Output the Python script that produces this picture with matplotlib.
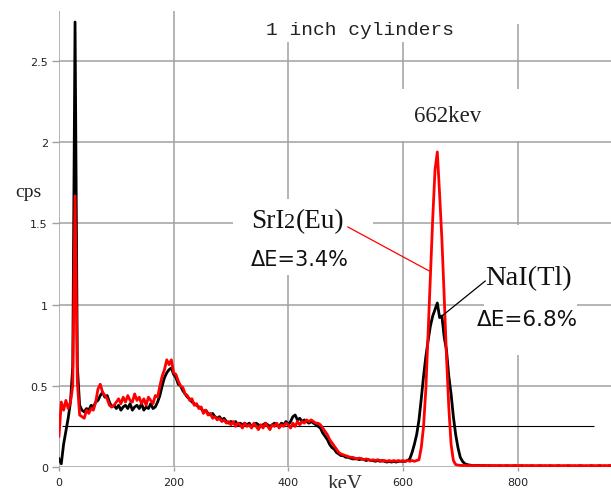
import numpy as np
import matplotlib.pyplot as plt
from matplotlib.patches import Rectangle

# NaI(Tl) spectrum, cps, 4 keV bins starting at 0 keV
nai = [0.05, 0.02, 0.14, 0.22, 0.30, 0.40, 0.62, 2.74, 0.62, 0.38,
       0.35, 0.34, 0.36, 0.35, 0.38, 0.37, 0.40, 0.41, 0.44, 0.46,
       0.43, 0.44, 0.40, 0.37, 0.38, 0.36, 0.38, 0.35, 0.37, 0.38,
       0.36, 0.39, 0.35, 0.37, 0.38, 0.36, 0.39, 0.35, 0.37, 0.36,
       0.39, 0.36, 0.37, 0.40, 0.44, 0.50, 0.55, 0.58, 0.60, 0.61,
       0.57, 0.55, 0.51, 0.50, 0.47, 0.45, 0.43, 0.42, 0.40, 0.39,
       0.38, 0.37, 0.36, 0.34, 0.35, 0.33, 0.32, 0.33, 0.31, 0.30,
       0.31, 0.29, 0.30, 0.28, 0.27, 0.28, 0.27, 0.28, 0.26, 0.27,
       0.26, 0.27, 0.26, 0.27, 0.25, 0.26, 0.27, 0.26, 0.25, 0.26,
       0.27, 0.26, 0.25, 0.26, 0.27, 0.26, 0.25, 0.27, 0.26, 0.28,
       0.26, 0.28, 0.31, 0.32, 0.29, 0.30, 0.28, 0.29, 0.28, 0.27,
       0.28, 0.27, 0.26, 0.25, 0.24, 0.21, 0.19, 0.17, 0.14, 0.12,
       0.11, 0.09, 0.08, 0.07, 0.07, 0.06, 0.06, 0.055, 0.05, 0.05,
       0.05, 0.045, 0.05, 0.045, 0.04, 0.045, 0.04, 0.04, 0.035, 0.04,
       0.035, 0.04, 0.035, 0.03, 0.035, 0.03, 0.035, 0.03, 0.035, 0.035,
       0.035, 0.035, 0.04, 0.05, 0.09, 0.14, 0.20, 0.29, 0.42, 0.56,
       0.68, 0.78, 0.87, 0.93, 0.97, 1.01, 0.92, 0.93, 0.80, 0.72,
       0.56, 0.45, 0.31, 0.20, 0.12, 0.06, 0.035, 0.02, 0.015, 0.012,
       0.01, 0.01, 0.01, 0.01, 0.008, 0.01, 0.008, 0.007, 0.008, 0.006,
       0.007, 0.006, 0.007, 0.005, 0.006, 0.005, 0.006, 0.005, 0.006, 0.005,
       0.005, 0.006, 0.005, 0.005, 0.006, 0.005, 0.005, 0.004, 0.005, 0.005,
       0.004, 0.005, 0.005, 0.004, 0.005, 0.004, 0.005, 0.004, 0.005, 0.004,
       0.004, 0.005, 0.004, 0.004, 0.005, 0.004, 0.004, 0.004, 0.005, 0.004,
       0.004, 0.004, 0.005, 0.004, 0.004, 0.005, 0.004, 0.004, 0.005, 0.004,
       0.004, 0.005]

# SrI2(Eu) spectrum, cps, same bins
sri = [0.19, 0.40, 0.35, 0.41, 0.36, 0.40, 0.50, 1.67, 0.52, 0.32,
       0.31, 0.30, 0.35, 0.33, 0.36, 0.35, 0.40, 0.48, 0.51, 0.46,
       0.44, 0.42, 0.38, 0.37, 0.38, 0.40, 0.42, 0.39, 0.43, 0.40,
       0.44, 0.41, 0.40, 0.45, 0.41, 0.43, 0.39, 0.42, 0.38, 0.43,
       0.41, 0.39, 0.44, 0.43, 0.50, 0.56, 0.60, 0.66, 0.63, 0.66,
       0.58, 0.57, 0.53, 0.50, 0.49, 0.45, 0.44, 0.41, 0.42, 0.38,
       0.39, 0.36, 0.37, 0.33, 0.35, 0.32, 0.33, 0.30, 0.31, 0.29,
       0.30, 0.28, 0.29, 0.27, 0.28, 0.26, 0.28, 0.25, 0.27, 0.26,
       0.24, 0.27, 0.25, 0.26, 0.24, 0.27, 0.25, 0.23, 0.26, 0.24,
       0.27, 0.25, 0.23, 0.26, 0.25, 0.27, 0.24, 0.26, 0.25, 0.27,
       0.26, 0.24, 0.27, 0.25, 0.28, 0.26, 0.28, 0.27, 0.29, 0.28,
       0.29, 0.28, 0.27, 0.27, 0.26, 0.24, 0.22, 0.20, 0.17, 0.15,
       0.13, 0.11, 0.09, 0.08, 0.075, 0.07, 0.065, 0.06, 0.06, 0.055,
       0.05, 0.055, 0.05, 0.045, 0.05, 0.045, 0.04, 0.045, 0.04, 0.045,
       0.04, 0.035, 0.04, 0.035, 0.04, 0.035, 0.04, 0.035, 0.04, 0.035,
       0.04, 0.035, 0.04, 0.035, 0.04, 0.035, 0.04, 0.045, 0.12, 0.25,
       0.48, 0.83, 1.18, 1.53, 1.83, 1.94, 1.68, 1.40, 1.05, 0.68,
       0.37, 0.14, 0.04, 0.015, 0.012, 0.01, 0.009, 0.01, 0.008, 0.009,
       0.008, 0.01, 0.008, 0.009, 0.008, 0.01, 0.008, 0.009, 0.01, 0.008,
       0.009, 0.008, 0.01, 0.009, 0.008, 0.01, 0.009, 0.008, 0.009, 0.01,
       0.008, 0.009, 0.01, 0.008, 0.009, 0.008, 0.01, 0.009, 0.008, 0.009,
       0.01, 0.008, 0.009, 0.008, 0.01, 0.009, 0.008, 0.009, 0.01, 0.008,
       0.009, 0.008, 0.01, 0.009, 0.008, 0.009, 0.008, 0.01, 0.009, 0.008,
       0.009, 0.008, 0.01, 0.009, 0.008, 0.009, 0.01, 0.008, 0.009, 0.008,
       0.01, 0.009]

energy = np.arange(len(nai)) * 4  # keV

baseline = 0.252
baseline_span = (5, 934)

xticks = [0, 200, 400, 600, 800]
yticks = [0, 0.5, 1, 1.5, 2, 2.5]
ytick_labels = ['0', '0.5', '1', '1.5', '2', '2.5']

GRID = '#a0a0a0'
SERIF = 'Liberation Serif'

fig = plt.figure(figsize=(6.11, 4.89), dpi=100)
ax = fig.add_axes([59 / 611, 21 / 489, 552 / 611, 456 / 489])
ax.set_xlim(0, 963)
ax.set_ylim(0, 2.808)

for s in ax.spines.values():
    s.set_visible(False)
ax.set_axisbelow(True)
ax.grid(True, color=GRID, linewidth=1.1)
ax.set_xticks(xticks)
ax.set_yticks(yticks)
ax.set_yticklabels(ytick_labels)
ax.tick_params(axis='y', length=5, width=1, color=GRID, pad=3, labelsize=8,
               labelcolor='#222222')
ax.tick_params(axis='x', length=3, width=1, color=GRID, pad=4, labelsize=8,
               labelcolor='#222222')

# white backgrounds behind the labels (they cut the grid)
boxes = [(430, 840, 2.73, 2.9), (330, 770, 2.62, 2.9), (560, 880, 2.01, 2.33),
         (304, 548, 1.182, 1.65), (742, 904, 0.69, 1.49)]
for x0, x1, y0, y1 in boxes:
    ax.add_patch(Rectangle((x0, y0), x1 - x0, y1 - y0, fc='white', ec='none',
                           zorder=1))

ax.hlines(baseline, *baseline_span, color='black', linewidth=0.8, zorder=2)
ax.plot(energy, nai, color='black', linewidth=2.0, zorder=3)
ax.plot(energy, sri, color='red', linewidth=2.0, zorder=4)

# leader lines
ax.plot([504, 646], [1.478, 1.207], color='red', linewidth=0.9, zorder=5)
ax.plot([743.5, 666], [1.145, 0.924], color='black', linewidth=0.9, zorder=5)

ax.text(648, 2.925, 'Energy spectrum', family=SERIF, weight='bold', fontsize=20,
        ha='center', va='baseline', clip_on=False)
ax.text(525, 2.666, '1 inch cylinders', family='Liberation Mono', fontsize=14,
        ha='center', va='baseline', color='#222222')
ax.text(678, 2.13, '662kev', family=SERIF, fontsize=16.5, ha='center',
        va='baseline', color='#222222')

t1 = ax.text(335, 1.478, 'SrI', family=SERIF, fontsize=19.6, va='baseline',
             color='#111111')
t2 = ax.annotate('2', xy=(1, 1.478), xycoords=(t1, 'data'), family=SERIF,
                 fontsize=16, va='baseline', color='#111111')
ax.annotate('(Eu)', xy=(1, 1.478), xycoords=(t2, 'data'), family=SERIF,
            fontsize=19.6, va='baseline', color='#111111')
ax.text(335, 1.244, 'ΔE=3.4%', family='DejaVu Sans', fontsize=15,
        va='baseline', color='#111111')
ax.text(743, 1.127, 'NaI(Tl)', family=SERIF, fontsize=20.5, va='baseline',
        color='#111111')
ax.text(729, 0.874, 'ΔE=6.8%', family='DejaVu Sans', fontsize=15.5,
        va='baseline', color='#111111')

ax.text(-54, 1.67, 'cps', family=SERIF, fontsize=14, ha='center',
        va='baseline', clip_on=False, color='#222222')
ax.text(499, -0.129, 'keV', family=SERIF, fontsize=15, ha='center',
        va='baseline', clip_on=False, color='#333333')

fig.savefig('out.png', dpi=100)
